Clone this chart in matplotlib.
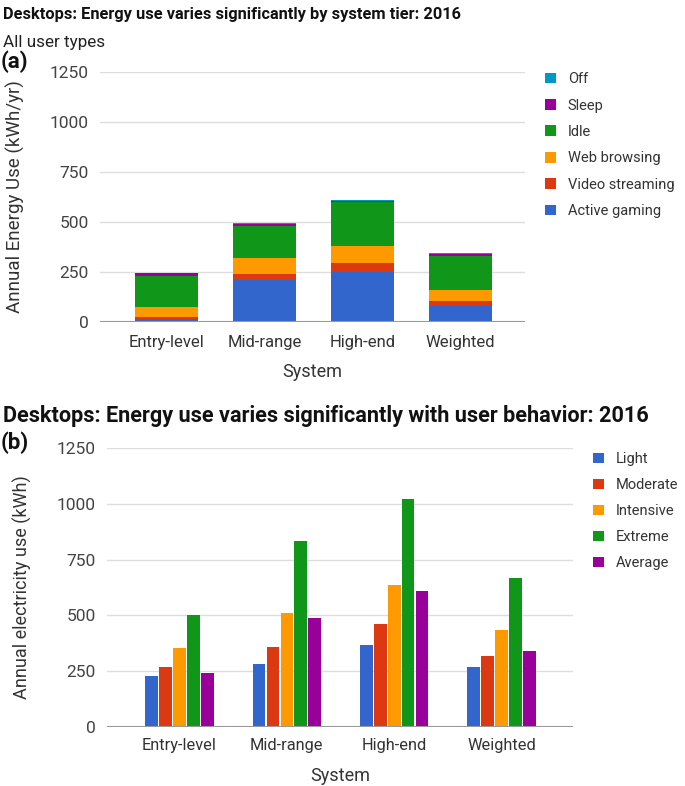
import matplotlib
matplotlib.use("Agg")
import matplotlib.pyplot as plt
import numpy as np

plt.rcParams['font.family'] = ['Roboto', 'DejaVu Sans']

# ---- Data (a) ----
systems = ["Entry-level", "Mid-range", "High-end", "Weighted"]
active_gaming = [15, 210, 250, 80]
video_streaming = [12, 32, 43, 23]
web_browsing = [46, 78, 89, 55]
idle = [159, 160, 218, 172]
sleep = [11, 8, 5, 10]
off = [3, 5, 5, 3]
stack_names = ["Active gaming", "Video streaming", "Web browsing", "Idle", "Sleep", "Off"]

# ---- Data (b) ----
user_types = ["Light", "Moderate", "Intensive", "Extreme", "Average"]
light = [230, 282, 369, 267]
moderate = [270, 358, 460, 319]
intensive = [352, 512, 637, 436]
extreme = [500, 834, 1021, 667]
average = [243, 488, 609, 339]

yticks = [0, 250, 500, 750, 1000, 1250]

stack_colors = ["#3366CC", "#DC3912", "#FF9900", "#109618", "#990099", "#0099C6"]
grp_colors = ["#3366CC", "#DC3912", "#FF9900", "#109618", "#990099"]

W, H = 685, 786
fig = plt.figure(figsize=(W / 100, H / 100), dpi=100)

def ax_rect(x0, y0, x1, y1):
    return [x0 / W, 1 - y1 / H, (x1 - x0) / W, (y1 - y0) / H]

def style(ax, ylabel, ylabelsize, ylabelpad):
    for s in ax.spines.values():
        s.set_visible(False)
    ax.set_ylim(0, 1250)
    ax.set_yticks(yticks)
    ax.set_yticklabels([str(v) for v in yticks], fontsize=12.5, color="#444444")
    ax.tick_params(axis='both', length=0, pad=8)
    ax.yaxis.grid(True, color="#dddddd", linewidth=1)
    ax.set_axisbelow(True)
    ax.axhline(0, color="#999999", linewidth=1.5, zorder=3)
    ax.set_ylabel(ylabel, fontsize=ylabelsize, color="#333333", labelpad=ylabelpad)
    ax.set_xlabel("System", fontsize=13, color="#333333", labelpad=10)

# ---- Chart (a) ----
ax1 = fig.add_axes(ax_rect(100, 72, 525, 322))
x = np.arange(len(systems))
series = [active_gaming, video_streaming, web_browsing, idle, sleep, off]
bottom = np.zeros(len(systems))
handles_a = []
for vals, c, name in zip(series, stack_colors, stack_names):
    b = ax1.bar(x, vals, width=0.64, bottom=bottom, color=c, label=name, zorder=2)
    handles_a.append(b)
    bottom += np.array(vals)
ax1.set_xlim(-0.68, 3.66)
ax1.set_xticks(x)
ax1.set_xticklabels(systems, fontsize=12, color="#333333")
style(ax1, "Annual Energy Use (kWh/yr)", 13.5, 18)
ax1.xaxis.set_tick_params(pad=9)

fig.legend(handles_a[::-1], stack_names[::-1], loc="upper left",
           bbox_to_anchor=(532 / W, 1 - 59 / H), frameon=False, fontsize=10.5,
           handlelength=0.75, handleheight=0.75, handletextpad=0.8,
           labelspacing=0.85, labelcolor="#333333")

# ---- Chart (b) ----
ax2 = fig.add_axes(ax_rect(107, 448, 573, 727))
groups = [light, moderate, intensive, extreme, average]
pitch = 0.13
bw = 0.118
handles_b = []
for i, (vals, c, name) in enumerate(zip(groups, grp_colors, user_types)):
    b = ax2.bar(x + (i - 2) * pitch, vals, width=bw, color=c, label=name, zorder=2)
    handles_b.append(b)
ax2.set_xlim(-0.676, 3.666)
ax2.set_xticks(x)
ax2.set_xticklabels(systems, fontsize=11.8, color="#333333")
style(ax2, "Annual electricity use (kWh)", 13, 18)
ax2.xaxis.set_tick_params(pad=8)

fig.legend(handles_b, user_types, loc="upper left",
           bbox_to_anchor=(580 / W, 1 - 439 / H), frameon=False, fontsize=10.5,
           handlelength=0.75, handleheight=0.75, handletextpad=0.8,
           labelspacing=0.82, labelcolor="#333333")

# ---- Titles / annotations ----
fig.text(3 / W, 1 - 14 / H, "Desktops: Energy use varies significantly by system tier: 2016",
         fontsize=11.8, fontweight="bold", va="center", ha="left", color="#111111")
fig.text(3 / W, 1 - 42 / H, "All user types", fontsize=12.3, va="center", ha="left", color="#222222")
fig.text(1 / W, 1 - 62 / H, "(a)", fontsize=16, fontweight="bold", va="center", ha="left", color="#111111")
fig.text(3 / W, 1 - 416 / H, "Desktops: Energy use varies significantly with user behavior: 2016",
         fontsize=15.6, fontweight="bold", va="center", ha="left", color="#111111")
fig.text(1 / W, 1 - 443 / H, "(b)", fontsize=16, fontweight="bold", va="center", ha="left", color="#111111")

fig.savefig("out.png", dpi=100)
